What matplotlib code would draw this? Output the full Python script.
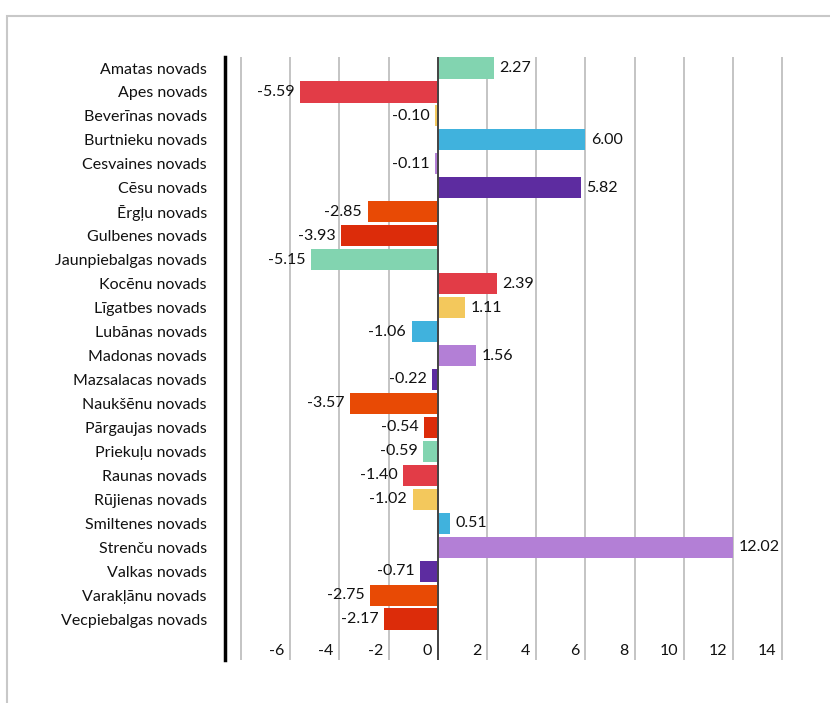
import matplotlib.pyplot as plt
import numpy as np
from matplotlib.patches import Rectangle

plt.rcParams['font.family'] = ['Lato', 'DejaVu Sans']

regions = ['Amatas novads', 'Apes novads', 'Beverīnas novads', 'Burtnieku novads',
           'Cesvaines novads', 'Cēsu novads', 'Ērgļu novads', 'Gulbenes novads',
           'Jaunpiebalgas novads', 'Kocēnu novads', 'Līgatbes novads', 'Lubānas novads',
           'Madonas novads', 'Mazsalacas novads', 'Naukšēnu novads', 'Pārgaujas novads',
           'Priekuļu novads', 'Raunas novads', 'Rūjienas novads', 'Smiltenes novads',
           'Strenču novads', 'Valkas novads', 'Varakļānu novads', 'Vecpiebalgas novads']
values = [2.27, -5.59, -0.10, 6.00, -0.11, 5.82, -2.85, -3.93, -5.15, 2.39, 1.11, -1.06,
          1.56, -0.22, -3.57, -0.54, -0.59, -1.40, -1.02, 0.51, 12.02, -0.71, -2.75, -2.17]
xticks = [-6, -4, -2, 0, 2, 4, 6, 8, 10, 12, 14]

palette = ['#82d4b0', '#e23c47', '#f3c85c', '#40b2dd', '#b37fd6', '#5d2ca0', '#e84a05', '#dc2c0a']
colors = [palette[i % len(palette)] for i in range(len(values))]

fig = plt.figure(figsize=(8.3, 7.03), dpi=100)
# light frame of the original widget
fig.patches.append(Rectangle((7 / 830, -0.05), 1.0, (703 - 16) / 703 + 0.05,
                             transform=fig.transFigure, fill=False,
                             edgecolor='#c8c8c8', linewidth=1.5))

ax = fig.add_axes([225 / 830, 43 / 703, (787 - 225) / 830, (660 - 57) / 703])
y = np.arange(len(regions))

for gx in np.arange(-8, 15, 2):
    ax.axvline(gx, color='#c4c4c4', linewidth=1.4, zorder=0)

ax.barh(y, values, height=0.88, color=colors, zorder=2)
ax.axvline(0, color='#444444', linewidth=1.4, zorder=3)

fs = 11.5
for yi, v in zip(y, values):
    if v >= 0:
        ax.annotate(f'{v:.2f}', (v, yi), xytext=(4, 0), textcoords='offset points',
                    ha='left', va='center', fontsize=fs, color='#111111')
    else:
        ax.annotate(f'{v:.2f}', (v, yi), xytext=(-4, 0), textcoords='offset points',
                    ha='right', va='center', fontsize=fs, color='#111111')

ax.set_xlim(-8.65, 14.2)
ax.set_ylim(len(regions) + 0.71, -0.46)

for t in xticks:
    ax.annotate(str(t), (t, len(regions) + 0.33), xytext=(-4, 0), textcoords='offset points',
                ha='right', va='center', fontsize=fs, color='#111111')

ax.set_yticks(y)
ax.set_yticklabels(regions, fontsize=fs, color='#111111')
ax.tick_params(axis='y', length=0, pad=13)
ax.set_xticks([])

for s in ['top', 'right', 'bottom']:
    ax.spines[s].set_visible(False)
ax.spines['left'].set_linewidth(2.5)
ax.spines['left'].set_color('#000000')

fig.savefig('out.png', dpi=100)
